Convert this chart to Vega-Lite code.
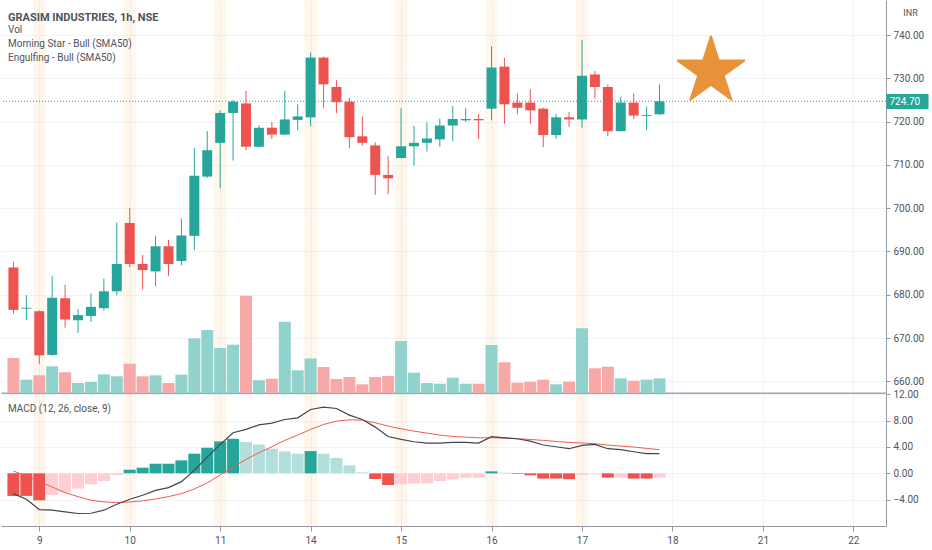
{
  "$schema": "https://vega.github.io/schema/vega-lite/v6.json",
  "background": "white",
  "padding": 0,
  "spacing": -4,
  "datasets": {
    "candles": [
      {"i": 0, "open": 686.3, "high": 687.6, "low": 675.6, "close": 676.5, "volume": 35, "hist": -3.43, "histState": "df", "macd": -3.08, "signal": 0.35},
      {"i": 1, "open": 676.8, "high": 679.9, "low": 674.1, "close": 677.0, "volume": 13.3, "hist": -3.43, "histState": "df", "macd": -3.94, "signal": -0.4},
      {"i": 2, "open": 676.2, "high": 676.4, "low": 664.0, "close": 666.0, "volume": 17.7, "hist": -4.09, "histState": "df", "macd": -5.5, "signal": -1.26},
      {"i": 3, "open": 666.1, "high": 684.3, "low": 665.9, "close": 679.3, "volume": 26.7, "hist": -3.28, "histState": "dr", "macd": -5.6, "signal": -2.07},
      {"i": 4, "open": 679.2, "high": 682.3, "low": 672.4, "close": 674.3, "volume": 20.7, "hist": -2.93, "histState": "dr", "macd": -5.86, "signal": -2.93},
      {"i": 5, "open": 674.1, "high": 676.7, "low": 671.2, "close": 675.3, "volume": 10, "hist": -2.32, "histState": "dr", "macd": -6.1, "signal": -3.54},
      {"i": 6, "open": 675.1, "high": 680.3, "low": 673.7, "close": 677.2, "volume": 11, "hist": -1.67, "histState": "dr", "macd": -6.06, "signal": -4.09},
      {"i": 7, "open": 676.9, "high": 683.7, "low": 676.4, "close": 680.8, "volume": 18.7, "hist": -1.16, "histState": "dr", "macd": -5.6, "signal": -4.34},
      {"i": 8, "open": 680.8, "high": 696.7, "low": 679.9, "close": 687.1, "volume": 16.7, "hist": -0.25, "histState": "dr", "macd": -4.7, "signal": -4.44},
      {"i": 9, "open": 696.6, "high": 700.1, "low": 686.4, "close": 687.1, "volume": 29.3, "hist": 0.56, "histState": "ur", "macd": -3.94, "signal": -4.34},
      {"i": 10, "open": 687.1, "high": 689.2, "low": 681.2, "close": 685.7, "volume": 16.7, "hist": 0.86, "histState": "ur", "macd": -3.33, "signal": -4.19},
      {"i": 11, "open": 685.4, "high": 693.6, "low": 682.0, "close": 691.2, "volume": 17.7, "hist": 1.46, "histState": "ur", "macd": -2.58, "signal": -3.89},
      {"i": 12, "open": 691.2, "high": 692.7, "low": 684.3, "close": 687.1, "volume": 10, "hist": 1.46, "histState": "ur", "macd": -2.17, "signal": -3.54},
      {"i": 13, "open": 687.8, "high": 697.6, "low": 686.8, "close": 693.7, "volume": 18.3, "hist": 1.97, "histState": "ur", "macd": -1.26, "signal": -3.08},
      {"i": 14, "open": 693.6, "high": 713.9, "low": 690.3, "close": 707.5, "volume": 54.7, "hist": 2.98, "histState": "ur", "macd": 0.45, "signal": -2.37},
      {"i": 15, "open": 707.3, "high": 717.8, "low": 707.0, "close": 713.4, "volume": 63, "hist": 3.89, "histState": "ur", "macd": 2.47, "signal": -1.46},
      {"i": 16, "open": 715.1, "high": 722.6, "low": 704.6, "close": 722.0, "volume": 45, "hist": 4.85, "histState": "ur", "macd": 4.39, "signal": -0.25},
      {"i": 17, "open": 722.0, "high": 725.0, "low": 711.0, "close": 724.6, "volume": 48.3, "hist": 5.25, "histState": "ur", "macd": 6.16, "signal": 0.96},
      {"i": 18, "open": 724.2, "high": 727.1, "low": 713.4, "close": 714.2, "volume": 97.3, "hist": 4.75, "histState": "uf", "macd": 6.67, "signal": 2.12},
      {"i": 19, "open": 714.2, "high": 719.2, "low": 714.0, "close": 718.6, "volume": 12.7, "hist": 4.39, "histState": "uf", "macd": 7.37, "signal": 3.13},
      {"i": 20, "open": 718.6, "high": 719.9, "low": 716.0, "close": 717.0, "volume": 14.3, "hist": 3.74, "histState": "uf", "macd": 7.63, "signal": 4.04},
      {"i": 21, "open": 717.0, "high": 727.1, "low": 716.9, "close": 720.5, "volume": 71.3, "hist": 3.33, "histState": "uf", "macd": 8.18, "signal": 5.0},
      {"i": 22, "open": 720.4, "high": 724.0, "low": 718.0, "close": 721.2, "volume": 22.7, "hist": 2.98, "histState": "uf", "macd": 8.43, "signal": 5.81},
      {"i": 23, "open": 721.0, "high": 736.0, "low": 718.9, "close": 734.8, "volume": 34.5, "hist": 3.38, "histState": "ur", "macd": 9.7, "signal": 6.67},
      {"i": 24, "open": 734.8, "high": 735.0, "low": 723.2, "close": 728.6, "volume": 26, "hist": 2.98, "histState": "uf", "macd": 10.05, "signal": 7.42},
      {"i": 25, "open": 728.0, "high": 729.6, "low": 722.0, "close": 724.5, "volume": 14, "hist": 2.32, "histState": "uf", "macd": 9.85, "signal": 7.93},
      {"i": 26, "open": 724.6, "high": 725.5, "low": 713.8, "close": 716.4, "volume": 16, "hist": 1.21, "histState": "uf", "macd": 8.84, "signal": 8.13},
      {"i": 27, "open": 716.6, "high": 721.2, "low": 714.5, "close": 715.1, "volume": 8.7, "hist": 0.15, "histState": "uf", "macd": 8.18, "signal": 8.08},
      {"i": 28, "open": 714.5, "high": 715.2, "low": 703.1, "close": 707.7, "volume": 16, "hist": -0.86, "histState": "df", "macd": 7.02, "signal": 7.68},
      {"i": 29, "open": 707.7, "high": 712.0, "low": 703.2, "close": 706.9, "volume": 17, "hist": -1.77, "histState": "df", "macd": 5.6, "signal": 7.17},
      {"i": 30, "open": 711.6, "high": 723.1, "low": 711.5, "close": 714.3, "volume": 52, "hist": -1.67, "histState": "dr", "macd": 5.15, "signal": 6.77},
      {"i": 31, "open": 714.3, "high": 719.0, "low": 709.8, "close": 715.1, "volume": 20.3, "hist": -1.57, "histState": "dr", "macd": 4.8, "signal": 6.41},
      {"i": 32, "open": 715.1, "high": 719.9, "low": 713.1, "close": 716.1, "volume": 10, "hist": -1.52, "histState": "dr", "macd": 4.6, "signal": 6.11},
      {"i": 33, "open": 715.9, "high": 720.7, "low": 714.2, "close": 719.1, "volume": 9.3, "hist": -1.16, "histState": "dr", "macd": 4.6, "signal": 5.81},
      {"i": 34, "open": 719.1, "high": 723.6, "low": 715.5, "close": 720.6, "volume": 15.3, "hist": -0.91, "histState": "dr", "macd": 4.7, "signal": 5.6},
      {"i": 35, "open": 720.3, "high": 723.1, "low": 719.9, "close": 720.6, "volume": 9.3, "hist": -0.66, "histState": "dr", "macd": 4.7, "signal": 5.5},
      {"i": 36, "open": 720.6, "high": 721.7, "low": 716.0, "close": 720.3, "volume": 9.3, "hist": -0.66, "histState": "dr", "macd": 4.6, "signal": 5.4},
      {"i": 37, "open": 723.0, "high": 737.4, "low": 720.3, "close": 732.5, "volume": 48, "hist": 0.3, "histState": "ur", "macd": 5.56, "signal": 5.4},
      {"i": 38, "open": 732.7, "high": 734.7, "low": 719.5, "close": 724.0, "volume": 30.7, "hist": 0.1, "histState": "uf", "macd": 5.4, "signal": 5.35},
      {"i": 39, "open": 724.4, "high": 726.5, "low": 721.7, "close": 723.2, "volume": 10.3, "hist": -0.1, "histState": "df", "macd": 5.25, "signal": 5.25},
      {"i": 40, "open": 724.4, "high": 727.5, "low": 719.5, "close": 722.6, "volume": 11.3, "hist": -0.3, "histState": "df", "macd": 4.9, "signal": 5.15},
      {"i": 41, "open": 723.0, "high": 723.2, "low": 714.1, "close": 716.9, "volume": 13.3, "hist": -0.8, "histState": "df", "macd": 4.3, "signal": 5.0},
      {"i": 42, "open": 716.9, "high": 721.8, "low": 716.0, "close": 721.0, "volume": 8.7, "hist": -0.8, "histState": "df", "macd": 4.04, "signal": 4.85},
      {"i": 43, "open": 721.0, "high": 722.2, "low": 718.8, "close": 720.5, "volume": 11.3, "hist": -0.9, "histState": "df", "macd": 3.74, "signal": 4.7},
      {"i": 44, "open": 720.5, "high": 738.8, "low": 718.6, "close": 730.6, "volume": 64.7, "hist": -0.25, "histState": "dr", "macd": 4.24, "signal": 4.6},
      {"i": 45, "open": 730.9, "high": 731.7, "low": 725.3, "close": 728.0, "volume": 24.7, "hist": -0.15, "histState": "dr", "macd": 4.39, "signal": 4.5},
      {"i": 46, "open": 728.0, "high": 728.6, "low": 716.6, "close": 717.8, "volume": 26.3, "hist": -0.66, "histState": "df", "macd": 3.74, "signal": 4.3},
      {"i": 47, "open": 717.8, "high": 725.8, "low": 717.7, "close": 724.4, "volume": 14.7, "hist": -0.66, "histState": "dr", "macd": 3.59, "signal": 4.14},
      {"i": 48, "open": 724.4, "high": 726.5, "low": 720.6, "close": 721.4, "volume": 12.3, "hist": -0.8, "histState": "df", "macd": 3.28, "signal": 3.99},
      {"i": 49, "open": 721.3, "high": 723.5, "low": 718.0, "close": 721.5, "volume": 13.3, "hist": -0.8, "histState": "df", "macd": 2.98, "signal": 3.79},
      {"i": 50, "open": 721.7, "high": 728.6, "low": 721.5, "close": 724.7, "volume": 14.7, "hist": -0.66, "histState": "dr", "macd": 2.98, "signal": 3.59}
    ],
    "sessions": [{"i": 2}, {"i": 9}, {"i": 16}, {"i": 23}, {"i": 30}, {"i": 37}, {"i": 44}],
    "last": [{"close": 724.7}],
    "marker": [{"i": 53.98, "price": 731.6}]
  },
  "vconcat": [
    {
      "width": 885,
      "height": 393,
      "title": {
        "text": "GRASIM INDUSTRIES, 1h, NSE",
        "subtitle": ["Vol", "Morning Star - Bull (SMA50)", "Engulfing - Bull (SMA50)"],
        "anchor": "start",
        "frame": "group",
        "orient": "top",
        "baseline": "top",
        "offset": -63,
        "dx": 7,
        "font": "Roboto",
        "fontSize": 11,
        "fontWeight": "bold",
        "color": "#50535e",
        "subtitleFont": "Roboto",
        "subtitleFontSize": 10,
        "subtitleColor": "#50535e",
        "subtitleLineHeight": 14,
        "subtitlePadding": 2
      },
      "layer": [
        {
          "data": {"name": "sessions"},
          "mark": {"type": "tick", "orient": "vertical", "color": "#ff9800", "opacity": 0.08, "thickness": 12.7, "size": 393},
          "encoding": {
            "x": {
              "field": "i", "type": "quantitative",
              "scale": {"domain": [-0.574, 67.14], "nice": false, "zero": false},
              "axis": {"values": [2, 9, 16, 23, 30, 37, 44, 51, 58, 65], "labels": false, "ticks": false, "domain": true, "domainColor": "#a3a6af", "domainWidth": 2, "grid": true, "title": null}
            }
          }
        },
        {
          "data": {"name": "candles"},
          "mark": {"type": "bar", "orient": "vertical", "size": 12},
          "encoding": {
            "x": {"field": "i", "type": "quantitative"},
            "y": {"field": "volume", "type": "quantitative", "scale": {"domain": [0, 393]}, "axis": null},
            "color": {"condition": {"test": "datum.close >= datum.open", "value": "#92d2cc"}, "value": "#f7a9a7"}
          }
        },
        {
          "data": {"name": "candles"},
          "mark": {"type": "rule", "strokeWidth": 1},
          "encoding": {
            "x": {"field": "i", "type": "quantitative"},
            "y": {
              "field": "low", "type": "quantitative",
              "scale": {"domain": [657.3, 748.1], "nice": false, "zero": false},
              "axis": {"orient": "right", "values": [660, 670, 680, 690, 700, 710, 720, 730, 740], "format": ".2f", "grid": true, "labelOverlap": false, "title": "INR", "titleAngle": 0, "titleX": 24, "titleY": 12, "titleAlign": "center", "titleBaseline": "middle", "titleFontSize": 9, "titleFontWeight": "normal", "titleColor": "#50535e", "titleFont": "Roboto"}
            },
            "y2": {"field": "high"},
            "color": {"condition": {"test": "datum.close >= datum.open", "value": "#26a69a"}, "value": "#ef5350"}
          }
        },
        {
          "data": {"name": "candles"},
          "mark": {"type": "bar", "size": 10},
          "encoding": {
            "x": {"field": "i", "type": "quantitative"},
            "y": {"field": "open", "type": "quantitative", "scale": {"domain": [657.3, 748.1], "nice": false, "zero": false}, "axis": null},
            "y2": {"field": "close"},
            "color": {"condition": {"test": "datum.close >= datum.open", "value": "#26a69a"}, "value": "#ef5350"}
          }
        },
        {
          "data": {"name": "last"},
          "mark": {"type": "rule", "color": "#26a69a", "strokeDash": [1, 2], "strokeWidth": 1},
          "encoding": {
            "y": {
              "field": "close", "type": "quantitative",
              "scale": {"domain": [657.3, 748.1], "nice": false, "zero": false},
              "axis": {"orient": "right", "values": [724.7], "format": ".2f", "grid": false, "domain": false, "tickSize": 42, "tickWidth": 15, "tickColor": "#26a69a", "labelColor": "white", "labelPadding": -39, "labelAlign": "left", "title": null, "zindex": 2}
            }
          }
        },
        {
          "data": {"name": "marker"},
          "mark": {"type": "point", "shape": "M0,-1L0.2245,-0.309L0.951,-0.309L0.3633,0.118L0.5878,0.809L0,0.382L-0.5878,0.809L-0.3633,0.118L-0.951,-0.309L-0.2245,-0.309Z", "filled": true, "size": 4900, "color": "#e8923a", "opacity": 1, "stroke": "#e8923a", "strokeWidth": 2, "strokeJoin": "round"},
          "encoding": {
            "x": {"field": "i", "type": "quantitative"},
            "y": {"field": "price", "type": "quantitative", "scale": {"domain": [657.3, 748.1], "nice": false, "zero": false}, "axis": null}
          }
        }
      ],
      "resolve": {"scale": {"y": "independent"}}
    },
    {
      "width": 885,
      "height": 132,
      "title": {
        "text": "MACD (12, 26, close, 9)",
        "anchor": "start",
        "frame": "group",
        "orient": "top",
        "baseline": "top",
        "offset": -25,
        "dx": 7,
        "font": "Roboto",
        "fontSize": 10,
        "fontWeight": "normal",
        "color": "#50535e"
      },
      "layer": [
        {
          "data": {"name": "sessions"},
          "mark": {"type": "tick", "orient": "vertical", "color": "#ff9800", "opacity": 0.08, "thickness": 12.7, "size": 132},
          "encoding": {
            "x": {
              "field": "i", "type": "quantitative",
              "scale": {"domain": [-0.574, 67.14], "nice": false, "zero": false},
              "axis": {"values": [2, 9, 16, 23, 30, 37, 44, 51, 58, 65], "labelExpr": "['9','10','11','14','15','16','17','18','21','22'][(datum.value - 2) / 7]", "grid": true, "labelOverlap": false, "title": null, "tickSize": 5, "labelPadding": 4}
            }
          }
        },
        {
          "data": {"name": "candles"},
          "mark": {"type": "bar", "orient": "vertical", "size": 12},
          "encoding": {
            "x": {"field": "i", "type": "quantitative"},
            "y": {
              "field": "hist", "type": "quantitative",
              "scale": {"domain": [-8.0, 12.05], "nice": false},
              "axis": {"orient": "right", "values": [-4, 0, 4, 8, 12], "format": ".2f", "grid": true, "labelOverlap": false, "labelBound": false, "title": null}
            },
            "color": {"field": "histState", "type": "nominal", "scale": {"domain": ["ur", "uf", "df", "dr"], "range": ["#26a69a", "#b2dfdb", "#ef5350", "#ffcdd2"]}, "legend": null}
          }
        },
        {
          "data": {"name": "candles"},
          "mark": {"type": "line", "color": "#f05a50", "strokeWidth": 1},
          "encoding": {
            "x": {"field": "i", "type": "quantitative"},
            "y": {
              "field": "signal", "type": "quantitative",
              "axis": {"orient": "right", "values": [-4, 0, 4, 8, 12], "format": ".2f", "grid": true, "labelOverlap": false, "labelBound": false, "title": null}
            }
          }
        },
        {
          "data": {"name": "candles"},
          "mark": {"type": "line", "color": "#434651", "strokeWidth": 1.2},
          "encoding": {
            "x": {"field": "i", "type": "quantitative"},
            "y": {
              "field": "macd", "type": "quantitative",
              "axis": {"orient": "right", "values": [-4, 0, 4, 8, 12], "format": ".2f", "grid": true, "labelOverlap": false, "labelBound": false, "title": null}
            }
          }
        }
      ]
    }
  ],
  "config": {
    "font": "Roboto",
    "view": {"stroke": null},
    "axis": {
      "labelFont": "Roboto",
      "labelFontSize": 10,
      "labelColor": "#50535e",
      "domainColor": "#9598a1",
      "tickColor": "#9598a1",
      "tickSize": 4,
      "gridColor": "#f0f3fa",
      "labelPadding": 3,
      "labelOverlap": false
    }
  }
}
